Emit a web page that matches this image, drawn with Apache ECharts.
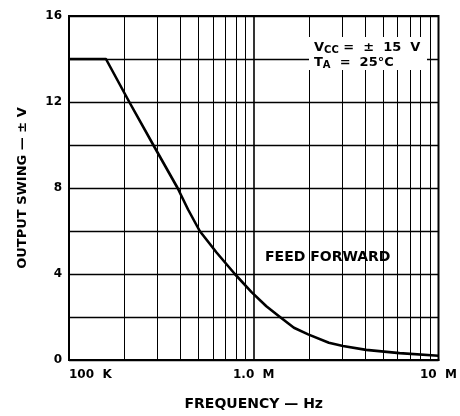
<!DOCTYPE html>
<html style="height: 100%">
<head>
  <meta charset="utf-8">
</head>
<body style="height: 100%; margin: 0">
  <div id="container" style="width: 460px; height: 416px"></div>
  <script src="https://cdn.jsdelivr.net/npm/echarts@6/dist/echarts.min.js"></script>
  <script>
// frequency (Hz) and output swing (±V)
var freq  = [1e5, 1.585e5, 2.12e5, 2.86e5, 3.87e5, 4.41e5, 5.1e5, 6.29e5, 7.9e5, 9.7e5, 1.17e6, 1.37e6, 1.65e6, 1.97e6, 2.55e6, 3.04e6, 4.06e6, 6.15e6, 1e7];
var swing = [14, 14, 12, 10, 8, 7, 6, 5, 4, 3.17, 2.5, 2.03, 1.5, 1.19, 0.8, 0.65, 0.47, 0.32, 0.2];

// log-grid verticals and axis labels
var xGridLines = [2e5, 3e5, 4e5, 5e5, 6e5, 7e5, 8e5, 9e5, 1e6, 2e6, 3e6, 4e6, 5e6, 6e6, 7e6, 8e6, 9e6];
var xLabels = { 100000: '100  K', 1000000: '1.0  M', 10000000: '10  M' };
var yLabeled = [0, 4, 8, 12, 16];

var dom = document.getElementById('container');
var myChart = echarts.init(dom, null, { renderer: 'canvas' });

var font = 'DejaVu Sans, sans-serif';
var points = freq.map(function (f, i) { return [f, swing[i]]; });

var option = {
  animation: false,
  backgroundColor: '#fff',
  grid: {
    left: 69, right: 21, top: 16, bottom: 50,
    show: true, borderColor: '#000', borderWidth: 2
  },
  xAxis: {
    type: 'log',
    logBase: 10,
    min: 1e5,
    max: 1e7,
    name: 'FREQUENCY — Hz',
    nameLocation: 'middle',
    nameGap: 37,
    nameTextStyle: { fontFamily: font, fontWeight: 'bold', fontSize: 14, color: '#000' },
    axisLine: { lineStyle: { color: '#000', width: 2 } },
    axisTick: { show: false },
    splitLine: { show: false },
    axisLabel: {
      margin: 9,
      fontFamily: font, fontWeight: 'bold', fontSize: 12, color: '#000',
      alignMinLabel: 'left',
      alignMaxLabel: 'center',
      formatter: function (v) { return xLabels[Math.round(v)] || ''; }
    }
  },
  yAxis: {
    type: 'value',
    min: 0,
    max: 16,
    interval: 2,
    name: 'OUTPUT SWING — ± V',
    nameLocation: 'middle',
    nameGap: 40,
    nameTextStyle: { fontFamily: font, fontWeight: 'bold', fontSize: 13, color: '#000' },
    axisLine: { lineStyle: { color: '#000', width: 2 } },
    axisTick: { show: false },
    splitLine: { show: true, lineStyle: { color: '#000', width: 1.3 } },
    axisLabel: {
      margin: 7,
      fontFamily: font, fontWeight: 'bold', fontSize: 12, color: '#000',
      formatter: function (v) { return yLabeled.indexOf(v) >= 0 ? v : ''; }
    }
  },
  series: [
    {
      type: 'line',
      data: points,
      showSymbol: false,
      smooth: false,
      lineStyle: { color: '#000', width: 2.6, join: 'round' },
      z: 5,
      markLine: {
        silent: true,
        symbol: 'none',
        label: { show: false },
        lineStyle: { color: '#000', width: 1, type: 'solid' },
        data: xGridLines.map(function (x) {
          return { xAxis: x, lineStyle: { width: x === 1e6 ? 1.6 : 1 } };
        })
      }
    }
  ],
  graphic: [
    {
      type: 'rect',
      z: 100,
      shape: { x: 309, y: 37, width: 118, height: 33 },
      style: { fill: '#fff' }
    },
    {
      type: 'text',
      z: 101,
      x: 314,
      y: 40,
      style: {
        text: '{b|V}{s|CC}{b| =  ±  15  V}\n{b|T}{s|A}{b|  =  25°C}',
        font: 'bold 13px ' + font,
        fill: '#000',
        rich: {
          b: { fontFamily: font, fontWeight: 'bold', fontSize: 13, lineHeight: 15, fill: '#000' },
          s: { fontFamily: font, fontWeight: 'bold', fontSize: 10, lineHeight: 15, padding: [5, 0, 0, 0], fill: '#000' }
        }
      }
    },
    {
      type: 'text',
      z: 101,
      x: 265,
      y: 250,
      style: {
        text: 'FEED FORWARD',
        font: 'bold 14px ' + font,
        fill: '#000'
      }
    }
  ]
};

myChart.setOption(option);
window.addEventListener('resize', myChart.resize);
  </script>
</body>
</html>
